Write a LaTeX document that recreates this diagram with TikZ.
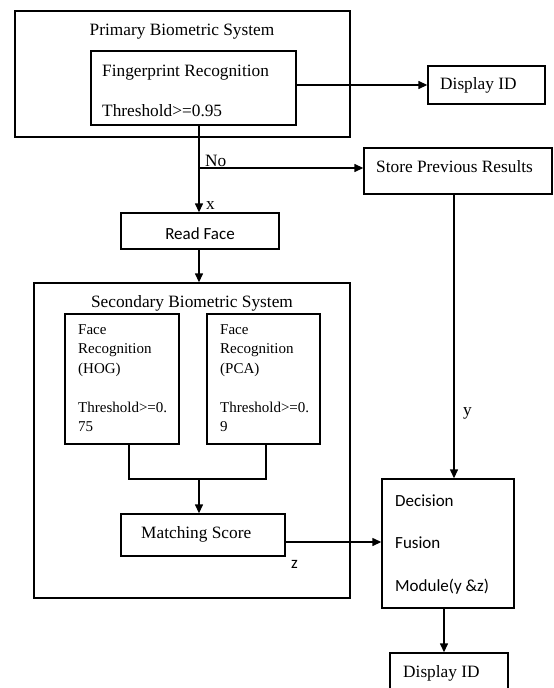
\documentclass[tikz,border=0pt]{standalone}
\usepackage{fontspec}
\setmainfont{Liberation Serif}
\newfontfamily\calib{Carlito}
\usetikzlibrary{arrows.meta}
\begin{document}
\begin{tikzpicture}[x=1pt,y=-1pt,
  box/.style={draw,line width=1.4pt,inner sep=0pt},
  arr/.style={line width=1.4pt,-{Triangle[length=9pt,width=8pt]}},
  ln/.style={line width=1.4pt},
  lab/.style={anchor=base west,inner sep=0pt,font=\fontsize{17.3}{20}\selectfont},
  ctr/.style={anchor=base,inner sep=0pt,font=\fontsize{17.3}{20}\selectfont},
  small/.style={anchor=base west,inner sep=0pt,font=\fontsize{15}{18}\selectfont},
  cal/.style={anchor=base west,inner sep=0pt,font=\calib\fontsize{17}{20}\selectfont}]
\clip (0,0) rectangle (554,688);
\fill[white] (0,0) rectangle (554,688);
% boxes
\node[box,minimum width=335pt,minimum height=126pt] (prim) at (182.5,74) {};
\node[box,minimum width=205pt,minimum height=74pt] (fp) at (193.5,88) {};
\node[box,minimum width=117pt,minimum height=38pt] (disp1) at (486.5,85) {};
\node[box,minimum width=188pt,minimum height=46pt] (store) at (458,171) {};
\node[box,minimum width=158pt,minimum height=36pt] (rf) at (200,231) {};
\node[box,minimum width=316pt,minimum height=315pt] (sec) at (192,440.5) {};
\node[box,minimum width=114pt,minimum height=130pt] (hog) at (122,379) {};
\node[box,minimum width=113pt,minimum height=130pt] (pca) at (263.5,379) {};
\node[box,minimum width=164pt,minimum height=42pt] (ms) at (203,535) {};
\node[box,minimum width=132pt,minimum height=129pt] (dec) at (448,543.5) {};
\node[box,minimum width=118pt,minimum height=47pt] (disp2) at (449,676.5) {};
% helper coordinates
\coordinate (xcol) at (199,0);
\coordinate (nob) at (199,168);
\coordinate (ycol) at (454,0);
\coordinate (hogx) at (129,0);
\coordinate (pcax) at (266,0);
\coordinate (join) at (199,479);
\coordinate (zrow) at (0,542);
\coordinate (dcol) at (444,0);
% connectors
\draw[arr] (fp.east |- disp1.west) -- (disp1.west);
\draw[arr] (fp.south -| xcol) -- (rf.north -| xcol);
\draw[arr] (nob) -- (nob -| store.west);
\draw[arr] (store.south -| ycol) -- (dec.north -| ycol);
\draw[arr] (rf.south -| xcol) -- (sec.north -| xcol);
\draw[ln] (hog.south -| hogx) |- (join) -| (pca.south -| pcax);
\draw[arr] (join) -- (ms.north -| join);
\draw[arr] (ms.east |- zrow) -- (dec.west |- zrow);
\draw[arr] (dec.south -| dcol) -- (disp2.north -| dcol);
% texts
\node[ctr] (tprim) at (182,35) {Primary Biometric System};
\node[lab] (tfp1) at (102,76) {Fingerprint Recognition};
\node[lab] (tfp2) at (102,116) {Threshold>=0.95};
\node[lab] (td1) at (440,89) {Display ID};
\node[lab] (tno) at (205,166) {No};
\node[lab] (tst) at (376,172) {Store Previous Results};
\node[lab] (tx) at (206,209) {x};
\node[cal,anchor=base] (trf) at (200,239) {Read Face};
\node[ctr] (tsec) at (192,307) {Secondary Biometric System};
\node[small] (h1) at (78,334) {Face};
\node[small] (h2) at (78,353.5) {Recognition};
\node[small] (h3) at (78,373) {(HOG)};
\node[small] (h4) at (78,412) {Threshold>=0.};
\node[small] (h5) at (78,431.5) {75};
\node[small] (p1) at (220,334) {Face};
\node[small] (p2) at (220,353.5) {Recognition};
\node[small] (p3) at (220,373) {(PCA)};
\node[small] (p4) at (220,412) {Threshold>=0.};
\node[small] (p5) at (220,431.5) {9};
\node[lab] (ty) at (463,415) {y};
\node[lab] (tms) at (141,538) {Matching Score};
\node[cal] (tz) at (291,568) {z};
\node[cal] (dd1) at (395,506) {Decision};
\node[cal] (dd2) at (395,548) {Fusion};
\node[cal] (dd3) at (395,591) {Module(y \&z)};
\node[lab] (td2) at (403,677) {Display ID};
\end{tikzpicture}
\end{document}
